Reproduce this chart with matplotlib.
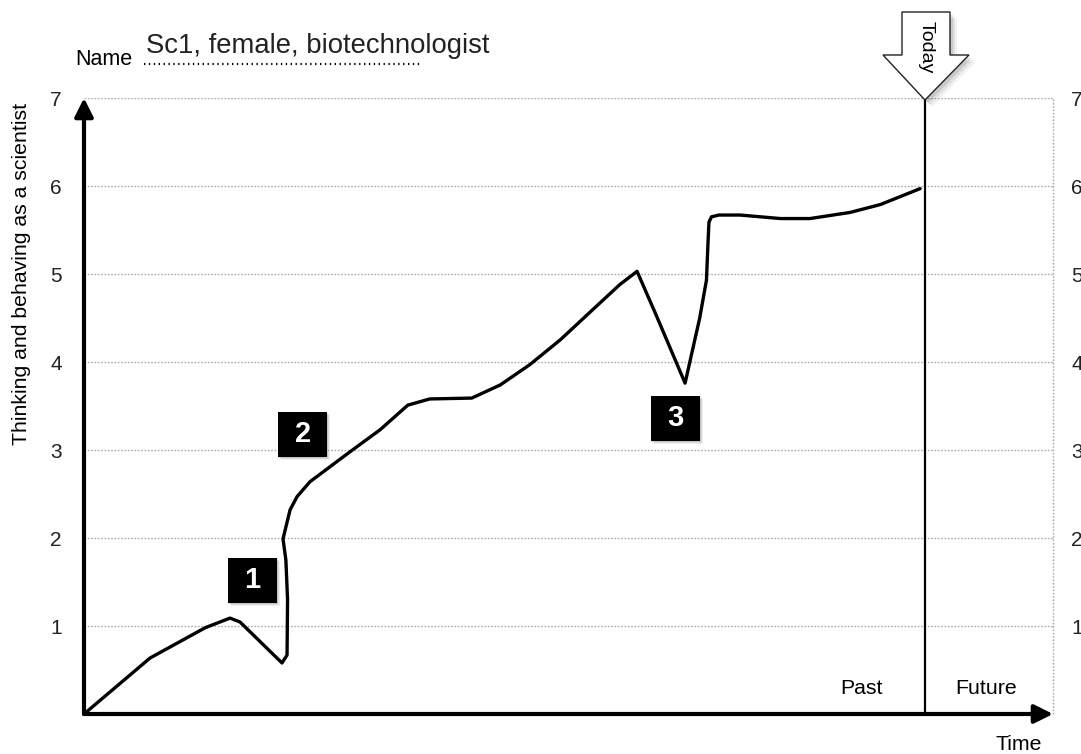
import matplotlib.pyplot as plt
from matplotlib.patches import Polygon, Rectangle

plt.rcParams['font.family'] = ['Liberation Sans', 'DejaVu Sans']

# time axis: 0 = start, 10 = today
time = [0, 0.785, 1.44, 1.736, 1.855, 2.354, 2.414, 2.42, 2.40, 2.366, 2.45, 2.533,
        2.687, 3.163, 3.52, 3.85, 4.11, 4.61, 4.95, 5.30, 5.66, 6.02, 6.37, 6.575,
        6.79, 7.146, 7.32, 7.40, 7.42, 7.43, 7.46, 7.55, 7.80, 8.28, 8.63, 9.11, 9.47, 9.94]
score = [0, 0.636, 0.98, 1.09, 1.045, 0.58, 0.67, 1.30, 1.75, 1.99, 2.32, 2.47,
         2.64, 2.98, 3.23, 3.51, 3.58, 3.59, 3.74, 3.97, 4.25, 4.57, 4.88, 5.03,
         4.56, 3.76, 4.50, 4.93, 5.39, 5.59, 5.65, 5.67, 5.67, 5.63, 5.63, 5.70, 5.79, 5.97]

event_labels = ['1', '2', '3']
event_x = [2.0, 2.60, 7.03]
event_y = [1.52, 3.18, 3.36]

y_ticks = [1, 2, 3, 4, 5, 6, 7]
today = 10
x_max = 11.52

fig = plt.figure(figsize=(10.81, 7.54), dpi=100)
ax = fig.add_axes([84 / 1081, 40 / 754, 969 / 1081, 616 / 754])
ax.set_xlim(0, x_max)
ax.set_ylim(0, 7)
for s in ax.spines.values():
    s.set_visible(False)

# dotted grid
for yv in y_ticks:
    ax.axhline(yv, color='#aaaaaa', lw=1, linestyle=(0, (1.2, 1.2)), zorder=1)
ax.plot([x_max, x_max], [0, 7], color='#aaaaaa', lw=1, linestyle=(0, (1.2, 1.2)),
        clip_on=False, zorder=1)

ax.set_xticks([])
ax.set_yticks(y_ticks)
ax.tick_params(axis='y', length=0, pad=16, labelsize=15, labelcolor='#222222')
ax2 = ax.twinx()
ax2.set_ylim(0, 7)
ax2.set_yticks(y_ticks)
ax2.tick_params(axis='y', length=0, pad=13, labelsize=15, labelcolor='#222222')
for s in ax2.spines.values():
    s.set_visible(False)

# axes arrows
arrow = dict(arrowstyle='-|>', lw=3, color='black', mutation_scale=28,
             shrinkA=0, shrinkB=0)
ax.annotate('', xy=(x_max, 0), xytext=(0, 0), arrowprops=arrow, annotation_clip=False)
ax.annotate('', xy=(0, 7), xytext=(0, 0), arrowprops=arrow, annotation_clip=False)

# today line
ax.plot([today, today], [0, 7], color='black', lw=1.6, clip_on=False, zorder=3)

# the trajectory
ax.plot(time, score, color='black', lw=2.4, solid_joinstyle='round',
        solid_capstyle='round', zorder=4, clip_on=False)

# event boxes
bw, bh = 0.58, 0.51
for lab, ex, ey in zip(event_labels, event_x, event_y):
    for k, a in [(3, 0.12), (2, 0.18), (1, 0.25)]:
        ax.add_patch(Rectangle((ex - bw / 2 + 0.012 * k, ey - bh / 2 - 0.012 * k), bw, bh,
                               facecolor='gray', edgecolor='none', alpha=a, zorder=5))
    ax.add_patch(Rectangle((ex - bw / 2, ey - bh / 2), bw, bh, facecolor='black',
                           edgecolor='none', zorder=6))
    ax.text(ex, ey, lab, color='white', fontsize=21, fontweight='bold',
            ha='center', va='center', zorder=7)

# overlay in pixel coordinates for decorations
ov = fig.add_axes([0, 0, 1, 1], zorder=10)
ov.set_xlim(0, 1081)
ov.set_ylim(754, 0)
ov.axis('off')
ov.patch.set_alpha(0)

arrow_pts = [(902, 12), (950, 12), (950, 55), (969, 55), (925, 100), (883, 55), (902, 55)]
for k, a in [(7, 0.05), (5, 0.07), (3, 0.1)]:
    ov.add_patch(Polygon([(px + k, py + k) for px, py in arrow_pts], closed=True,
                         facecolor='black', edgecolor='none', alpha=a))
ov.add_patch(Polygon(arrow_pts, closed=True, facecolor='white', edgecolor='#222222', lw=1))
ov.text(926, 47, 'Today', rotation=-90, ha='center', va='center', fontsize=14)

ov.text(75, 65, 'Name', fontsize=15.5, va='baseline', ha='left')
ov.plot([144, 420], [64, 64], color='black', lw=1.6, linestyle=(0, (0.6, 1.6)))
ov.text(146, 53, 'Sc1, female, biotechnologist', fontsize=19.8, va='baseline', ha='left',
        color='#222222')

ov.text(22, 274, 'Thinking and behaving as a scientist', rotation=90,
        ha='center', va='center', fontsize=15.3)
ov.text(862, 688, 'Past', ha='center', va='center', fontsize=15.3)
ov.text(986, 688, 'Future', ha='center', va='center', fontsize=15.3)
ov.text(1019, 745, 'Time', ha='center', va='center', fontsize=15.3)

fig.savefig('out.png', dpi=100)
